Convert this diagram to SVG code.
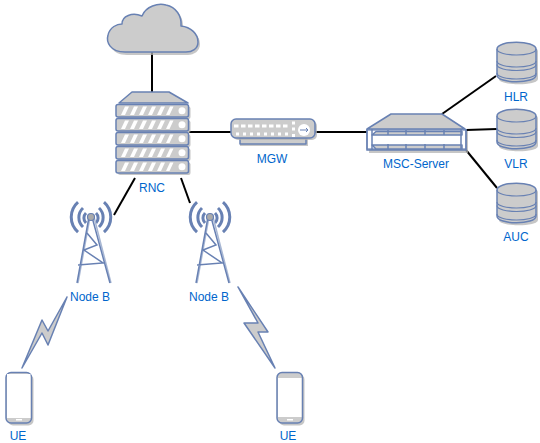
<svg xmlns="http://www.w3.org/2000/svg" width="540" height="443" viewBox="0 0 540 443">
<style>
text{font-family:"Liberation Sans",Arial,sans-serif;font-size:12px;fill:#0066cc;text-anchor:middle}
.c{stroke:#000;stroke-width:2;fill:none}
.s{fill:#ccc;stroke:#6881b3;stroke-width:1.5;stroke-linejoin:round}
.w{fill:#fff;stroke:#6881b3;stroke-width:1.2}
.sh{fill:#b3b3b3;opacity:.75}
.l{fill:none;stroke:#6881b3;stroke-width:1.5}
.a{fill:none;stroke:#6881b3;stroke-width:3}
</style>
<defs>
<g id="row">
<rect class="sh" x="2" y="2" width="72.500" height="12.400" rx="2"/>
<rect class="s" x="0" y="0" width="72.500" height="12.400" rx="2"/>
<path fill="#fff" d="M5,10.500L9,2h4L9,10.500zM14,10.500L18,2h4L18,10.500zM23,10.500L27,2h4L27,10.500zM32,10.500L36,2h4L36,10.500zM41,10.500L45,2h4L45,10.500zM50,10.500L54,2h3.500L53.500,10.500z"/>
<circle cx="66" cy="6.200" r="3.500" fill="#fff"/>
</g>
<g id="db">
<path class="sh" d="M2,9C2,2 41,2 41,9V37C41,44 2,44 2,37z"/>
<path class="s" stroke-width="1.2" d="M0,7C0,-2 39,-2 39,7V33C39,42 0,42 0,33z"/>
<path fill="none" stroke="#6881b3" stroke-width="1.200" d="M0,7C0,15 39,15 39,7M0,19C0,27 39,27 39,19M0,22.500C0,30.500 39,30.500 39,22.500M0,31C0,39 39,39 39,31"/>
</g>
<g id="tower">
<path class="a" d="M-13,-15A20,20 0 0 0 -13,15M-8,-9A13,13 0 0 0 -8,10M-5,-4A7,7 0 0 0 -5,6"/>
<path class="a" d="M13,-15A20,20 0 0 1 13,15M8,-9A13,13 0 0 1 8,10M5,-4A7,7 0 0 1 5,6"/>
<path d="M-1,0L-13,66M3,0L20,66" fill="none" stroke="#a9b8d4" stroke-width="1.500"/>
<path d="M-2,0L-14,66M1,0L19,66M-4,16L6,28L-7,33L12,46L-13,48" fill="none" stroke="#6881b3" stroke-width="1.500"/>
<circle cx="0" cy="0" r="3.500" fill="#aaa" stroke="#6881b3" stroke-width="1.200"/>
</g>
<g id="phonebody">
<rect class="sh" x="2" y="2" width="25.500" height="51" rx="5"/>
<rect class="s" x="0" y="0" width="25.500" height="50.500" rx="5"/>
<rect x="10" y="46.500" width="6" height="1.500" fill="#fff"/>
</g>
</defs>
<g id="connectors">
<path class="c" d="M152,52V92"/>
<path class="c" d="M189,132H231"/>
<path class="c" d="M315,132H367"/>
<path class="c" d="M442,114L496,76"/>
<path class="c" d="M466,130L497,129"/>
<path class="c" d="M466,150L497,188"/>
<path class="c" d="M135,178L114,215"/>
<path class="c" d="M181,178L190,203"/>
</g>
<g id="cloud">
<path class="sh" d="M127,55C112,55 108,44 110,37C112,29 119,26 124,26C124,18 134,14 144,18C148,8 160,5 168,7C178,9 184,18 183,28C193,29 200,36 200,44C200,51 194,55 188,55z"/>
<path class="s" d="M125,52C110,52 106,42 108,35C110,27 117,24 122,24C122,16 132,12 142,16C146,6 158,3 166,5C176,7 182,16 181,26C191,27 198,34 198,42C198,49 192,52 186,52z"/>
</g>
<g id="rnc">
<path class="s" d="M119,103L132,92H169L188,103z"/>
<use href="#row" x="116" y="104.500"/>
<use href="#row" x="116" y="118.500"/>
<use href="#row" x="116" y="132.500"/>
<use href="#row" x="116" y="146.500"/>
<use href="#row" x="116" y="160.500"/>
<text x="152" y="192">RNC</text>
</g>
<g id="mgw">
<rect class="sh" x="240" y="138" width="68" height="8"/>
<rect class="s" x="240" y="138" width="66" height="6"/>
<rect class="sh" x="233" y="121" width="84" height="19" rx="5"/>
<rect class="s" x="231" y="119" width="84" height="19" rx="5"/>
<path d="M234,126H289" fill="none" stroke="#fff" stroke-width="3" stroke-dasharray="4.500 2.500"/>
<path d="M236,134H289" fill="none" stroke="#fff" stroke-width="3" stroke-dasharray="3 4"/>
<path d="M292,121.500h3v3h-3zM292,127.500h3v3h-3zM292,134h3v3h-3z" fill="#fff"/>
<circle cx="304" cy="130" r="6" fill="#fff"/>
<path d="M300,130H308M306,128L308,130L306,132" fill="none" stroke="#6881b3"/>
<text x="272" y="163">MGW</text>
</g>
<g id="msc">
<rect class="sh" x="369" y="131" width="99" height="22"/>
<path class="s" d="M367,129L391,114H442L465,129z"/>
<rect class="w" x="367" y="130" width="99" height="19"/>
<path class="s" stroke-width="1" d="M376,131.500H462V135H372zM372,145H462V149H376z"/>
<path class="l" d="M367,129V150H466V129M372,129V150H461V129M388,130V135M406,130V135M425,130V135M444,130V135M388,144V149M406,144V149M425,144V149M444,144V149"/>
<text x="416" y="168">MSC-Server</text>
</g>
<g id="hlr">
<use href="#db" x="497" y="42"/>
<text x="516" y="101">HLR</text>
</g>
<g id="vlr">
<use href="#db" x="497" y="109"/>
<text x="516" y="168">VLR</text>
</g>
<g id="auc">
<use href="#db" x="497" y="183"/>
<text x="516" y="241">AUC</text>
</g>
<g id="nodeb1">
<use href="#tower" x="91" y="217"/>
<text x="90" y="301">Node B</text>
</g>
<g id="nodeb2">
<use href="#tower" x="210" y="217"/>
<text x="209" y="301">Node B</text>
</g>
<g id="link1">
<path class="s" d="M67,297L48,345L42,333L22,368L42,320L48,331z"/>
</g>
<g id="link2">
<path class="s" d="M238,287L268,332L258,332L275,368L244,323L258,323z"/>
</g>
<g id="ue1">
<use href="#phonebody" x="6" y="372.500"/>
<rect x="7" y="374" width="23.500" height="44" fill="#fff"/>
<text x="18" y="440">UE</text>
</g>
<g id="ue2">
<use href="#phonebody" x="277" y="372.500"/>
<rect x="278" y="378" width="23.500" height="39" fill="#fff"/>
<text x="288" y="440">UE</text>
</g>
</svg>
